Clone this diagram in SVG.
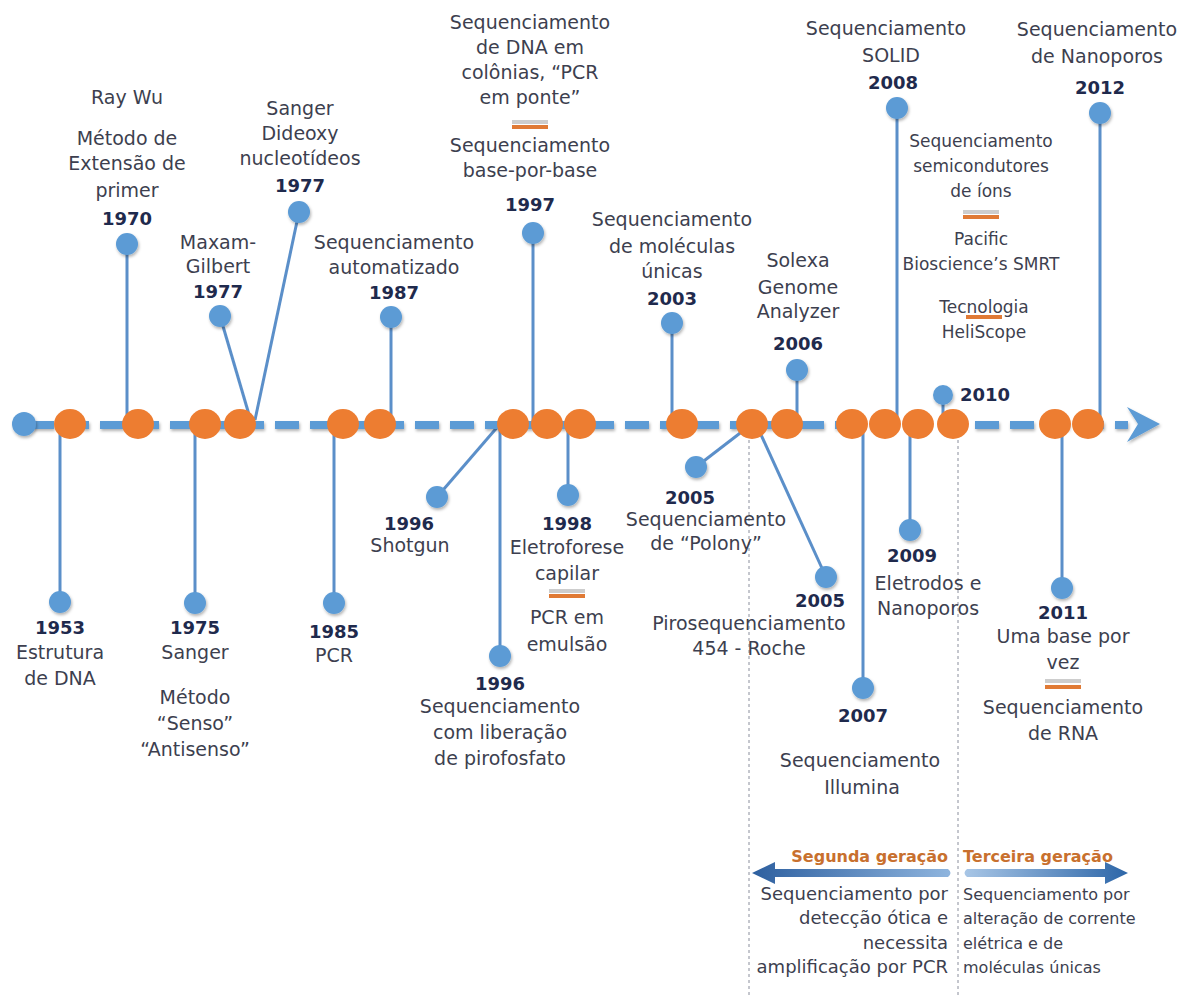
<svg xmlns="http://www.w3.org/2000/svg" width="1187" height="996" viewBox="0 0 1187 996">
<defs>
<style>
.t{font-family:"DejaVu Sans","Liberation Sans",sans-serif;font-size:19px;fill:#3d3f4f;text-anchor:middle}
.m{font-size:17px}
.y{font-family:"DejaVu Sans","Liberation Sans",sans-serif;font-size:18px;font-weight:bold;fill:#1f2a4d;text-anchor:middle}
.g{font-family:"DejaVu Sans","Liberation Sans",sans-serif;font-size:16px;font-weight:bold;fill:#c8702e}
.s{font-family:"DejaVu Sans","Liberation Sans",sans-serif;font-size:18px;fill:#3d3f4f}
.s2{font-family:"DejaVu Sans","Liberation Sans",sans-serif;font-size:16px;fill:#3d3f4f}
.stem{stroke:#5b8fc9;stroke-width:3;fill:none}
.dot{fill:#5b9bd5;filter:url(#sh)}
.orb{fill:#ed7d31}
.vd{stroke:#8a8e9c;stroke-width:1;stroke-dasharray:3 3;fill:none}
.sg{fill:#cdcdcd}
.so{fill:#e07a35}
</style>
<filter id="sh" x="-50%" y="-50%" width="200%" height="200%"><feDropShadow dx="1" dy="2" stdDeviation="1.5" flood-color="#000" flood-opacity="0.3"/></filter>
<filter id="shl" filterUnits="userSpaceOnUse" x="0" y="390" width="1187" height="70"><feDropShadow dx="1" dy="2" stdDeviation="1.5" flood-color="#000" flood-opacity="0.3"/></filter>
<linearGradient id="gl" x1="0" y1="0" x2="1" y2="0"><stop offset="0" stop-color="#2d5f9f"/><stop offset="1" stop-color="#8fb5de"/></linearGradient>
<linearGradient id="gr" x1="0" y1="0" x2="1" y2="0"><stop offset="0" stop-color="#a8c6e6"/><stop offset="1" stop-color="#2d66a8"/></linearGradient>
</defs>
<rect width="1187" height="996" fill="#ffffff"/>

<!-- generation dividers -->
<g id="dividers">
<line class="vd" x1="749" y1="434" x2="749" y2="996"/>
<line class="vd" x1="958" y1="434" x2="958" y2="996"/>
</g>

<!-- connectors -->
<g id="connectors">
<line class="stem" x1="60" y1="430" x2="60" y2="600"/>
<line class="stem" x1="127" y1="244" x2="127" y2="422"/>
<line class="stem" x1="195" y1="430" x2="195" y2="600"/>
<line class="stem" x1="220" y1="316" x2="250" y2="418"/>
<line class="stem" x1="299" y1="212" x2="255" y2="420"/>
<line class="stem" x1="334" y1="430" x2="334" y2="600"/>
<line class="stem" x1="391" y1="317" x2="391" y2="420"/>
<line class="stem" x1="437" y1="497" x2="500" y2="424"/>
<line class="stem" x1="500" y1="425" x2="500" y2="655"/>
<line class="stem" x1="533" y1="233" x2="533" y2="422"/>
<line class="stem" x1="568" y1="425" x2="568" y2="495"/>
<line class="stem" x1="672" y1="323" x2="672" y2="422"/>
<line class="stem" x1="696" y1="467" x2="748" y2="427"/>
<line class="stem" x1="757" y1="426" x2="826" y2="577"/>
<line class="stem" x1="797" y1="370" x2="797" y2="422"/>
<line class="stem" x1="863" y1="428" x2="863" y2="688"/>
<line class="stem" x1="897" y1="108" x2="897" y2="422"/>
<line class="stem" x1="910" y1="428" x2="910" y2="530"/>
<line class="stem" x1="943" y1="395" x2="943" y2="420"/>
<line class="stem" x1="1062" y1="428" x2="1062" y2="588"/>
<line class="stem" x1="1100" y1="113" x2="1100" y2="422"/>
</g>

<!-- timeline backbone -->
<g id="timeline">
<line x1="30" y1="425" x2="1128" y2="425" stroke="#5b9bd5" stroke-width="8" stroke-dasharray="24 11" filter="url(#shl)"/>
<polygon points="1127,407 1160,424 1127,442 1138,424" fill="#5b9bd5" filter="url(#sh)"/>
<circle cx="24" cy="424" r="12" fill="#5b9bd5" filter="url(#sh)"/>
<g class="orb">
<ellipse cx="70" cy="424" rx="16" ry="15"/>
<ellipse cx="138" cy="424" rx="16" ry="15"/>
<ellipse cx="205" cy="424" rx="16" ry="15"/>
<ellipse cx="240" cy="424" rx="16" ry="15"/>
<ellipse cx="343" cy="424" rx="16" ry="15"/>
<ellipse cx="380" cy="424" rx="16" ry="15"/>
<ellipse cx="513" cy="424" rx="16" ry="15"/>
<ellipse cx="547" cy="424" rx="16" ry="15"/>
<ellipse cx="580" cy="424" rx="16" ry="15"/>
<ellipse cx="682" cy="424" rx="16" ry="15"/>
<ellipse cx="752" cy="424" rx="16" ry="15"/>
<ellipse cx="787" cy="424" rx="16" ry="15"/>
<ellipse cx="852" cy="424" rx="16" ry="15"/>
<ellipse cx="885" cy="424" rx="16" ry="15"/>
<ellipse cx="918" cy="424" rx="16" ry="15"/>
<ellipse cx="953" cy="424" rx="16" ry="15"/>
<ellipse cx="1055" cy="424" rx="16" ry="15"/>
<ellipse cx="1088" cy="424" rx="16" ry="15"/>
</g>
</g>

<!-- nodes -->
<g id="n1953">
<circle class="dot" cx="60" cy="602" r="11"/>
<text class="y" x="60" y="634">1953</text>
<text class="t" x="60" y="659">Estrutura</text>
<text class="t" x="60" y="685">de DNA</text>
</g>
<g id="n1970">
<circle class="dot" cx="127" cy="244" r="11"/>
<text class="t" x="127" y="104">Ray Wu</text>
<text class="t" x="127" y="145">Método de</text>
<text class="t" x="127" y="170">Extensão de</text>
<text class="t" x="127" y="197">primer</text>
<text class="y" x="127" y="225">1970</text>
</g>
<g id="n1975">
<circle class="dot" cx="195" cy="603" r="11"/>
<text class="y" x="195" y="634">1975</text>
<text class="t" x="195" y="659">Sanger</text>
<text class="t" x="195" y="704">Método</text>
<text class="t" x="195" y="730">“Senso”</text>
<text class="t" x="195" y="756">“Antisenso”</text>
</g>
<g id="n1977a">
<circle class="dot" cx="220" cy="316" r="11"/>
<text class="t" x="218" y="249">Maxam-</text>
<text class="t" x="218" y="273">Gilbert</text>
<text class="y" x="218" y="298">1977</text>
</g>
<g id="n1977b">
<circle class="dot" cx="299" cy="212" r="11"/>
<text class="t" x="300" y="115">Sanger</text>
<text class="t" x="300" y="140">Dideoxy</text>
<text class="t" x="300" y="165">nucleotídeos</text>
<text class="y" x="300" y="192">1977</text>
</g>
<g id="n1985">
<circle class="dot" cx="334" cy="603" r="11"/>
<text class="y" x="334" y="638">1985</text>
<text class="t" x="334" y="662">PCR</text>
</g>
<g id="n1987">
<circle class="dot" cx="391" cy="317" r="11"/>
<text class="t" x="394" y="249">Sequenciamento</text>
<text class="t" x="394" y="274">automatizado</text>
<text class="y" x="394" y="299">1987</text>
</g>
<g id="n1996a">
<circle class="dot" cx="437" cy="497" r="11"/>
<text class="y" x="409" y="530">1996</text>
<text class="t" x="410" y="552">Shotgun</text>
</g>
<g id="n1996b">
<circle class="dot" cx="500" cy="656" r="11"/>
<text class="y" x="500" y="690">1996</text>
<text class="t" x="500" y="713">Sequenciamento</text>
<text class="t" x="500" y="739">com liberação</text>
<text class="t" x="500" y="765">de pirofosfato</text>
</g>
<g id="n1997">
<circle class="dot" cx="533" cy="233" r="11"/>
<text class="t" x="530" y="29">Sequenciamento</text>
<text class="t" x="530" y="54">de DNA em</text>
<text class="t" x="530" y="79">colônias, “PCR</text>
<text class="t" x="530" y="104">em ponte”</text>
<rect class="sg" x="512" y="120" width="36" height="4"/>
<rect class="so" x="512" y="125" width="36" height="4"/>
<text class="t" x="530" y="152">Sequenciamento</text>
<text class="t" x="530" y="177">base-por-base</text>
<text class="y" x="530" y="211">1997</text>
</g>
<g id="n1998">
<circle class="dot" cx="568" cy="495" r="11"/>
<text class="y" x="567" y="530">1998</text>
<text class="t" x="567" y="554">Eletroforese</text>
<text class="t" x="567" y="580">capilar</text>
<rect class="sg" x="549" y="589" width="36" height="4"/>
<rect class="so" x="549" y="594" width="36" height="4"/>
<text class="t" x="567" y="624">PCR em</text>
<text class="t" x="567" y="651">emulsão</text>
</g>
<g id="n2003">
<circle class="dot" cx="672" cy="323" r="11"/>
<text class="t" x="672" y="226">Sequenciamento</text>
<text class="t" x="672" y="253">de moléculas</text>
<text class="t" x="672" y="278">únicas</text>
<text class="y" x="672" y="305">2003</text>
</g>
<g id="n2005a">
<circle class="dot" cx="696" cy="467" r="11"/>
<text class="y" x="690" y="504">2005</text>
<text class="t" x="706" y="526">Sequenciamento</text>
<text class="t" x="706" y="550">de “Polony”</text>
</g>
<g id="n2005b">
<circle class="dot" cx="826" cy="577" r="11"/>
<text class="y" x="820" y="607">2005</text>
<text class="t" x="749" y="630">Pirosequenciamento</text>
<text class="t" x="749" y="655">454 - Roche</text>
</g>
<g id="n2006">
<circle class="dot" cx="797" cy="370" r="11"/>
<text class="t" x="798" y="267">Solexa</text>
<text class="t" x="798" y="294">Genome</text>
<text class="t" x="798" y="318">Analyzer</text>
<text class="y" x="798" y="350">2006</text>
</g>
<g id="n2007">
<circle class="dot" cx="863" cy="688" r="11"/>
<text class="y" x="863" y="722">2007</text>
<text class="t" x="860" y="767">Sequenciamento</text>
<text class="t" x="862" y="794">Illumina</text>
</g>
<g id="n2008">
<circle class="dot" cx="897" cy="108" r="11"/>
<text class="t" x="886" y="35">Sequenciamento</text>
<text class="t" x="891" y="62">SOLID</text>
<text class="y" x="893" y="89">2008</text>
</g>
<g id="n2009">
<circle class="dot" cx="910" cy="530" r="11"/>
<text class="y" x="912" y="562">2009</text>
<text class="t" x="928" y="590">Eletrodos e</text>
<text class="t" x="928" y="615">Nanoporos</text>
</g>
<g id="n2010">
<circle class="dot" cx="943" cy="395" r="10"/>
<text class="y" x="960" y="401" style="text-anchor:start">2010</text>
</g>
<g id="n2010b">
<text class="t m" x="981" y="147">Sequenciamento</text>
<text class="t m" x="981" y="172">semicondutores</text>
<text class="t m" x="981" y="197">de íons</text>
<rect class="sg" x="963" y="210" width="36" height="4"/>
<rect class="so" x="963" y="215" width="36" height="4"/>
<text class="t m" x="981" y="245">Pacific</text>
<text class="t m" x="981" y="270">Bioscience’s SMRT</text>
<text class="t m" x="984" y="313">Tecnologia</text>
<rect class="so" x="966" y="315" width="36" height="4"/>
<text class="t m" x="984" y="338">HeliScope</text>
</g>
<g id="n2011">
<circle class="dot" cx="1062" cy="588" r="11"/>
<text class="y" x="1063" y="619">2011</text>
<text class="t" x="1063" y="643">Uma base por</text>
<text class="t" x="1063" y="669">vez</text>
<rect class="sg" x="1045" y="679" width="36" height="4"/>
<rect class="so" x="1045" y="685" width="36" height="4"/>
<text class="t" x="1063" y="714">Sequenciamento</text>
<text class="t" x="1063" y="740">de RNA</text>
</g>
<g id="n2012">
<circle class="dot" cx="1100" cy="113" r="11"/>
<text class="t" x="1097" y="36">Sequenciamento</text>
<text class="t" x="1097" y="63">de Nanoporos</text>
<text class="y" x="1100" y="94">2012</text>
</g>

<!-- generations -->
<g id="gen2">
<text class="g" x="948" y="862" text-anchor="end">Segunda geração</text>
<path d="M752,873 L775,862 L775,869 L948,869 Q953,873 948,877 L775,877 L775,884 Z" fill="url(#gl)"/>
<text class="s" x="948" y="900" text-anchor="end">Sequenciamento por</text>
<text class="s" x="948" y="924" text-anchor="end">detecção ótica e</text>
<text class="s" x="948" y="949" text-anchor="end">necessita</text>
<text class="s" x="948" y="973" text-anchor="end">amplificação por PCR</text>
</g>
<g id="gen3">
<text class="g" x="963" y="862">Terceira geração</text>
<path d="M1128,873 L1105,862 L1105,869 L967,869 Q962,873 967,877 L1105,877 L1105,884 Z" fill="url(#gr)"/>
<text class="s2" x="963" y="900">Sequenciamento por</text>
<text class="s2" x="963" y="924">alteração de corrente</text>
<text class="s2" x="963" y="949">elétrica e de</text>
<text class="s2" x="963" y="973">moléculas únicas</text>
</g>
</svg>
